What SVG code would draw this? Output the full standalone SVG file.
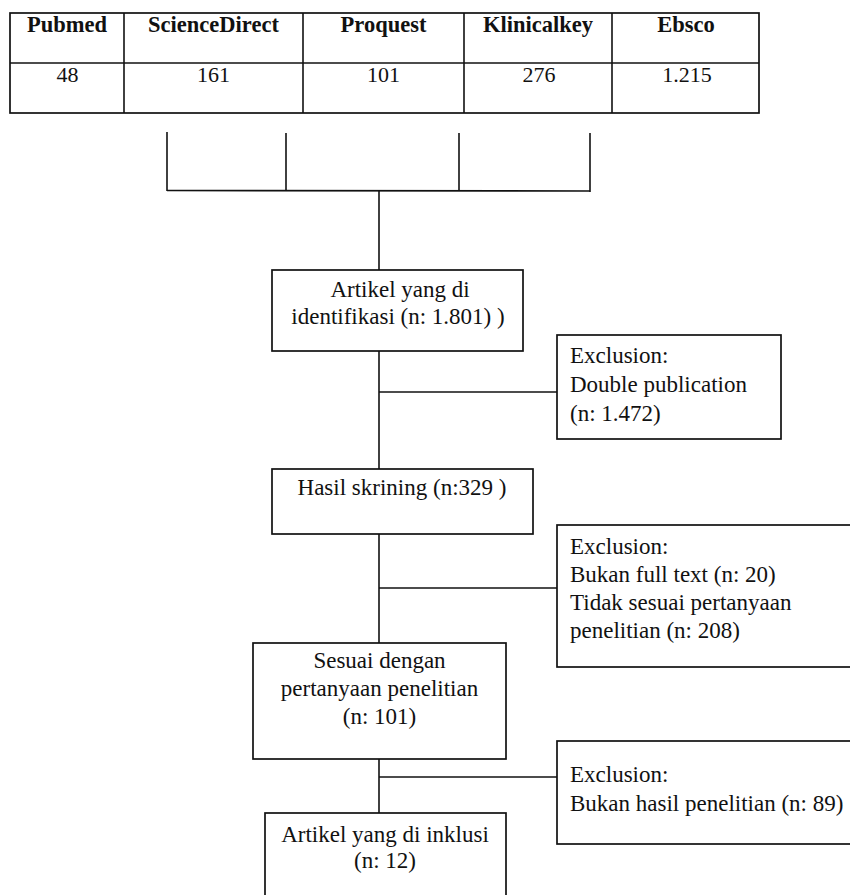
<svg xmlns="http://www.w3.org/2000/svg" width="850" height="895" viewBox="0 0 850 895">
<style>
  .bg { fill: #ffffff; }
  .box { fill: #ffffff; stroke: #111111; stroke-width: 1.7; }
  .ln { fill: none; stroke: #111111; stroke-width: 1.6; }
  .t { font-family: "Liberation Serif", "Times New Roman", serif; font-size: 23px; fill: #111111; }
  .c { text-anchor: middle; }
  .h { font-family: "Liberation Serif", "Times New Roman", serif; font-size: 22.5px; font-weight: bold; fill: #111111; text-anchor: middle; }
  .v { font-family: "Liberation Serif", "Times New Roman", serif; font-size: 22px; fill: #111111; text-anchor: middle; }
</style>
<rect class="bg" x="0" y="0" width="850" height="895"/>

<g id="table">
  <rect class="box" x="10" y="13" width="749" height="100"/>
  <line class="ln" x1="10" y1="63" x2="759" y2="63"/>
  <line class="ln" x1="124" y1="13" x2="124" y2="113"/>
  <line class="ln" x1="303" y1="13" x2="303" y2="113"/>
  <line class="ln" x1="464" y1="13" x2="464" y2="113"/>
  <line class="ln" x1="612" y1="13" x2="612" y2="113"/>
  <text class="h" x="67" y="32">Pubmed</text>
  <text class="h" x="213.5" y="32">ScienceDirect</text>
  <text class="h" x="383.5" y="32">Proquest</text>
  <text class="h" x="538" y="32">Klinicalkey</text>
  <text class="h" x="686" y="32">Ebsco</text>
  <text class="v" x="67.5" y="82">48</text>
  <text class="v" x="213.5" y="82">161</text>
  <text class="v" x="383.5" y="82">101</text>
  <text class="v" x="539" y="82">276</text>
  <text class="v" x="687" y="82">1.215</text>
</g>

<g id="connectors">
  <line class="ln" x1="167" y1="132" x2="167" y2="191"/>
  <line class="ln" x1="286" y1="133" x2="286" y2="191"/>
  <line class="ln" x1="459" y1="133" x2="459" y2="191"/>
  <line class="ln" x1="590" y1="133" x2="590" y2="192"/>
  <line class="ln" x1="167" y1="190.5" x2="590" y2="191"/>
  <line class="ln" x1="379" y1="191" x2="379" y2="270"/>
  <line class="ln" x1="379" y1="351" x2="379" y2="469"/>
  <line class="ln" x1="379" y1="392" x2="557" y2="392"/>
  <line class="ln" x1="379" y1="534" x2="379" y2="643"/>
  <line class="ln" x1="379" y1="588" x2="557" y2="588"/>
  <line class="ln" x1="379" y1="759" x2="379" y2="813"/>
  <line class="ln" x1="379" y1="777" x2="557" y2="777"/>
</g>

<g id="identified">
  <rect class="box" x="272" y="270" width="251" height="81"/>
  <text class="t c" x="400" y="297">Artikel yang di</text>
  <text class="t c" x="398" y="324">identifikasi (n: 1.801) )</text>
</g>

<g id="exclusion1">
  <rect class="box" x="557" y="335" width="224" height="104"/>
  <text class="t" x="570" y="363">Exclusion:</text>
  <text class="t" x="570" y="392">Double publication</text>
  <text class="t" x="570" y="421">(n: 1.472)</text>
</g>

<g id="screening">
  <rect class="box" x="272" y="469" width="261" height="65"/>
  <text class="t c" x="402" y="495">Hasil skrining (n:329 )</text>
</g>

<g id="exclusion2">
  <rect class="box" x="557" y="525" width="300" height="142"/>
  <text class="t" x="570" y="554">Exclusion:</text>
  <text class="t" x="570" y="582">Bukan full text (n: 20)</text>
  <text class="t" x="570" y="610">Tidak sesuai pertanyaan</text>
  <text class="t" x="570" y="638">penelitian (n: 208)</text>
</g>

<g id="eligible">
  <rect class="box" x="253" y="643" width="253" height="116"/>
  <text class="t c" x="379.5" y="668">Sesuai dengan</text>
  <text class="t c" x="379.5" y="696">pertanyaan penelitian</text>
  <text class="t c" x="379.5" y="724">(n: 101)</text>
</g>

<g id="exclusion3">
  <rect class="box" x="557" y="741" width="300" height="103"/>
  <text class="t" x="570" y="782">Exclusion:</text>
  <text class="t" x="570" y="811">Bukan hasil penelitian (n: 89)</text>
</g>

<g id="included">
  <rect class="box" x="265" y="813" width="241" height="100"/>
  <text class="t c" x="385" y="842">Artikel yang di inklusi</text>
  <text class="t c" x="385" y="868">(n: 12)</text>
</g>
</svg>
